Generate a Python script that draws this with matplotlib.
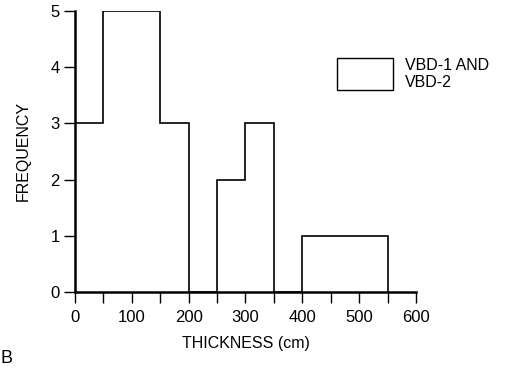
import numpy as np
import matplotlib.pyplot as plt
from matplotlib.patches import Rectangle

plt.rcParams['font.family'] = ['Liberation Sans', 'DejaVu Sans']

# bin edges (cm) and counts per 50 cm bin
bin_edges = [0, 50, 100, 150, 200, 250, 300, 350, 400, 450, 500, 550]
counts = [3, 5, 5, 3, 0, 2, 3, 0, 1, 1, 1]
legend_label = 'VBD-1 AND\nVBD-2'

fig = plt.figure(figsize=(5.13, 3.68), dpi=100)
ax = fig.add_axes([0.146, 0.207, 0.665, 0.763])

ax.stairs(counts, bin_edges, color='black', linewidth=1.2, baseline=0)

ax.set_xlim(0, 600)
ax.set_ylim(0, 5)
ax.spines['top'].set_visible(False)
ax.spines['right'].set_visible(False)
ax.spines['left'].set_linewidth(1.8)
ax.spines['bottom'].set_linewidth(1.8)

ax.set_xticks(np.arange(0, 601, 100))
ax.set_xticks(np.arange(0, 601, 50), minor=True)
ax.set_yticks(range(0, 6))
ax.tick_params(axis='both', which='both', direction='out', length=8, width=1, labelsize=12)
ax.tick_params(axis='x', which='major', pad=5)
ax.tick_params(axis='y', which='major', pad=3)

ax.set_xlabel('THICKNESS (cm)', fontsize=11.5, labelpad=8)
ax.set_ylabel('FREQUENCY', fontsize=11.5, labelpad=14)

# legend drawn as a box with text next to it
fig.patches.append(Rectangle((337 / 513, 1 - 90 / 368), 56 / 513, 32 / 368,
                             transform=fig.transFigure, fill=False,
                             edgecolor='black', linewidth=1.0))
fig.text(405 / 513, 1 - 74 / 368, legend_label, fontsize=11.5, va='center', ha='left',
         linespacing=1.1)

fig.text(0.0, 0.003, 'B', fontsize=13, ha='left', va='bottom')

fig.savefig('out.png', dpi=100)
